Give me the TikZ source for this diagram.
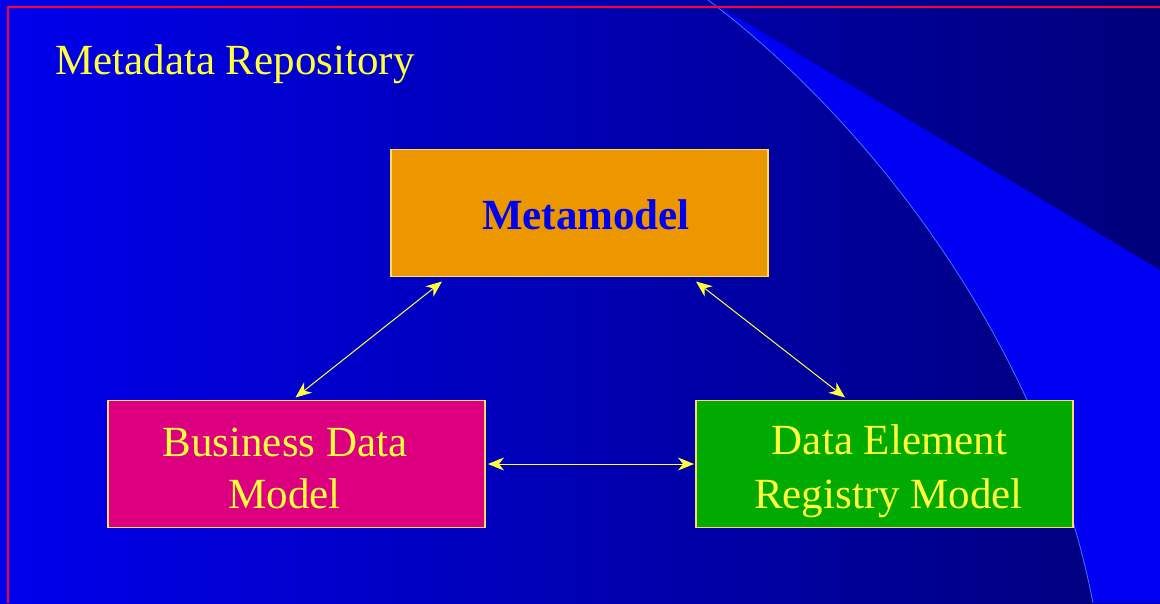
\documentclass[tikz,border=0pt]{standalone}
\usepackage{fontspec}
\setmainfont{Liberation Serif}
\usetikzlibrary{arrows.meta}
\definecolor{bgL}{RGB}{0,0,236}
\definecolor{bgR}{RGB}{0,0,122}
\definecolor{wedge}{RGB}{0,0,242}
\definecolor{curveln}{RGB}{60,120,255}
\definecolor{frameRed}{RGB}{255,0,50}
\definecolor{txtYellow}{RGB}{255,255,60}
\definecolor{boxEdge}{RGB}{255,220,100}
\definecolor{orangeF}{RGB}{236,150,0}
\definecolor{magentaF}{RGB}{220,0,128}
\definecolor{greenF}{RGB}{0,170,0}
\definecolor{metaBlue}{RGB}{0,0,238}
\begin{document}
\begin{tikzpicture}[x=1pt,y=-1pt,
  box/.style={draw=boxEdge, line width=1.2pt, minimum width=377pt, minimum height=127pt, inner sep=0pt, outer sep=0pt},
  lbl/.style={anchor=base, text=txtYellow, font=\fontsize{43}{52}\selectfont, inner sep=0pt},
  conn/.style={draw=txtYellow, line width=1pt, {Stealth[length=16pt,width=13pt,inset=5pt]}-{Stealth[length=16pt,width=13pt,inset=5pt]}}]
\useasboundingbox (0,0) rectangle (1160,603);
% background
\shade[left color=bgL, right color=bgR] (0,0) rectangle (1160,603);
\fill[wedge] (708,0) .. controls (855,110) and (1040,330) .. (1093,603) -- (1160,603) -- (1160,270) -- cycle;
\draw[curveln, line width=0.8pt] (708,0) .. controls (855,110) and (1040,330) .. (1093,603);
\draw[frameRed, line width=2pt] (1160,7) -- (8,7) -- (8,603);
% title
\node[lbl, anchor=base west] (title) at (55,74) {Metadata Repository};
% boxes
\node[box, fill=orangeF] (meta) at (579.5,213) {};
\node[box, fill=magentaF] (bdm) at (296.5,464) {};
\node[box, fill=greenF] (der) at (884.5,464) {};
% texts
\node[lbl, text=metaBlue, font=\fontsize{43}{52}\selectfont\bfseries] (metaT) at ([shift={(6.5,16)}]meta.center) {Metamodel};
\node[lbl] (bdmT1) at ([shift={(-11.5,-7.3)}]bdm.center) {Business Data};
\node[lbl] (bdmT2) at ([shift={(-12,44.3)}]bdm.center) {Model};
\node[lbl] (derT1) at ([shift={(5,-10)}]der.center) {Data Element};
\node[lbl] (derT2) at ([shift={(4,44)}]der.center) {Registry Model};
% connectors
\draw[conn] ([shift={(-1,-3)}]bdm.north) -- ([shift={(51,5)}]meta.south west);
\draw[conn] ([shift={(-72,5)}]meta.south east) -- ([shift={(149,-3)}]der.north west);
\draw[conn] ([shift={(3,0)}]bdm.east) -- ([shift={(-2,0)}]der.west);
\end{tikzpicture}
\end{document}
